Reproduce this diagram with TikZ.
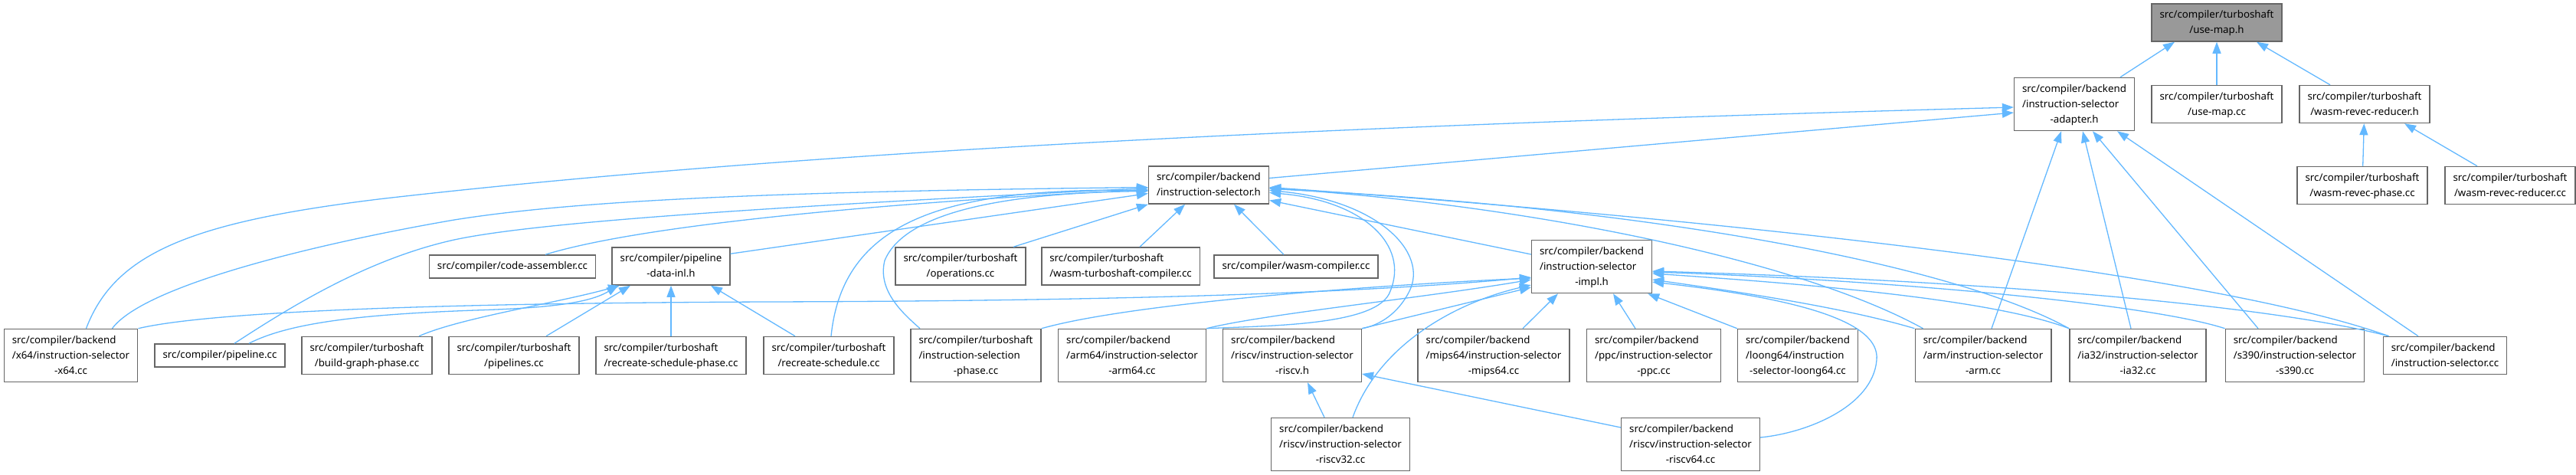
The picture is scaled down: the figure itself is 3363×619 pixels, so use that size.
\documentclass[tikz,border=0pt]{standalone}
\usepackage{fontspec}
\setmainfont{Noto Sans}
\usepackage{tikz}
\usetikzlibrary{arrows.meta}
\definecolor{edgeblue}{HTML}{63B8FF}
\definecolor{boxgray}{HTML}{666666}
\definecolor{maingray}{HTML}{999999}
%% file label: left-aligned lines, last line centred
\newcommand{\fpath}[2]{\begin{tabular}{@{}l@{}}#1\\\multicolumn{1}{@{}c@{}}{#2}\end{tabular}}
\tikzset{
  dep/.style  = {{Triangle[length=15pt, width=11pt]}-, draw=edgeblue, line width=1.3pt},
  %% Box presets
  wbox/.style = {draw=boxgray, fill=white, line width=1.5pt, inner xsep=10.5pt, inner ysep=4.5pt,
                 minimum height=30pt, font=\fontsize{13.3}{20}\selectfont},
  gbox/.style = {wbox, fill=maingray},
}

\begin{document}
\begin{tikzpicture}[x=1pt, y=-1pt]
\useasboundingbox (0,0) rectangle (3363,619);

%% ---- (1) use-map.h and its direct users ----
\node[gbox] (usemaph)    at (2894, 29.5) {\fpath{src/compiler/turboshaft}{/use-map.h}};
\node[wbox] (adapter)    at (2708, 136)  {\fpath{src/compiler/backend\\/instruction-selector}{-adapter.h}};
\node[wbox] (usemapcc)   at (2894, 136)  {\fpath{src/compiler/turboshaft}{/use-map.cc}};
\node[wbox] (revech)     at (3087, 136)  {\fpath{src/compiler/turboshaft}{/wasm-revec-reducer.h}};
\node[wbox] (revecphase) at (3084, 242)  {\fpath{src/compiler/turboshaft}{/wasm-revec-phase.cc}};
\node[wbox] (reveccc)    at (3277, 242)  {\fpath{src/compiler/turboshaft}{/wasm-revec-reducer.cc}};

%% ---- (2) instruction-selector.h ----
\node[wbox] (ish) at (1578, 241.5) {\fpath{src/compiler/backend}{/instruction-selector.h}};

%% ---- (3) middle row ----
\node[wbox] (codeasm)    at (669, 348)    {src/compiler/code-assembler.cc};
\node[wbox] (pdatainl)   at (876, 347.5)  {\fpath{src/compiler/pipeline}{-data-inl.h}};
\node[wbox] (operations) at (1254, 347.5) {\fpath{src/compiler/turboshaft}{/operations.cc}};
\node[wbox] (wasmts)     at (1463, 347.5) {\fpath{src/compiler/turboshaft}{/wasm-turboshaft-compiler.cc}};
\node[wbox] (wasmcomp)   at (1692, 348)   {src/compiler/wasm-compiler.cc};
\node[wbox] (impl)       at (2078, 348)   {\fpath{src/compiler/backend\\/instruction-selector}{-impl.h}};

%% ---- (4) lower row ----
\node[wbox] (x64)           at (92.5, 464) {\fpath{src/compiler/backend\\/x64/instruction-selector}{-x64.cc}};
\node[wbox] (pipelinecc)    at (287, 464)  {src/compiler/pipeline.cc};
\node[wbox] (buildgraph)    at (479, 464)  {\fpath{src/compiler/turboshaft}{/build-graph-phase.cc}};
\node[wbox] (pipelines)     at (671, 464)  {\fpath{src/compiler/turboshaft}{/pipelines.cc}};
\node[wbox] (recschedphase) at (876, 464)  {\fpath{src/compiler/turboshaft}{/recreate-schedule-phase.cc}};
\node[wbox] (recsched)      at (1082, 464) {\fpath{src/compiler/turboshaft}{/recreate-schedule.cc}};
\node[wbox] (isphase)       at (1274, 464) {\fpath{src/compiler/turboshaft\\/instruction-selection}{-phase.cc}};
\node[wbox] (arm64)         at (1478, 464) {\fpath{src/compiler/backend\\/arm64/instruction-selector}{-arm64.cc}};
\node[wbox] (riscvh)        at (1687, 464) {\fpath{src/compiler/backend\\/riscv/instruction-selector}{-riscv.h}};
\node[wbox] (mips64)        at (1950, 464) {\fpath{src/compiler/backend\\/mips64/instruction-selector}{-mips64.cc}};
\node[wbox] (ppc)           at (2159, 464) {\fpath{src/compiler/backend\\/ppc/instruction-selector}{-ppc.cc}};
\node[wbox] (loong64)       at (2347, 464) {\fpath{src/compiler/backend\\/loong64/instruction}{-selector-loong64.cc}};
\node[wbox] (arm)           at (2589, 464) {\fpath{src/compiler/backend\\/arm/instruction-selector}{-arm.cc}};
\node[wbox] (ia32)          at (2791, 464) {\fpath{src/compiler/backend\\/ia32/instruction-selector}{-ia32.cc}};
\node[wbox] (s390)          at (2996, 464) {\fpath{src/compiler/backend\\/s390/instruction-selector}{-s390.cc}};
\node[wbox] (iscc)          at (3192, 464) {\fpath{src/compiler/backend}{/instruction-selector.cc}};

%% ---- (5) riscv sources ----
\node[wbox] (riscv32) at (1750, 580) {\fpath{src/compiler/backend\\/riscv/instruction-selector}{-riscv32.cc}};
\node[wbox] (riscv64) at (2207, 580) {\fpath{src/compiler/backend\\/riscv/instruction-selector}{-riscv64.cc}};

%% ---- edges into use-map.h / wasm-revec-reducer.h ----
\draw[dep] ([xshift=-55pt]usemaph.south) -- ([xshift=60pt]adapter.north);
\draw[dep] (usemaph) -- (usemapcc);
\draw[dep] ([xshift=52pt]usemaph.south) -- ([xshift=-45pt]revech.north);
\draw[dep] (revech) -- (revecphase);
\draw[dep] ([xshift=52pt]revech.south) -- ([xshift=-43pt]reveccc.north);

%% ---- edges into instruction-selector-adapter.h ----
\draw[dep] ([yshift=-11pt]adapter.west) -- ([yshift=9pt]ish.east);
\draw[dep] ([yshift=-4pt]adapter.west) .. controls (1900,160) and (1100,190) .. (494,260)
                                         .. controls (250,290) and (150,330) .. ([xshift=20pt]x64.north);
\draw[dep] ([xshift=-17pt]adapter.south) -- ([xshift=11pt]arm.north);
\draw[dep] ([xshift=11pt]adapter.south)  -- ([xshift=-9pt]ia32.north);
\draw[dep] ([xshift=24pt]adapter.south)  -- ([xshift=-48pt]s390.north);
\draw[dep] ([xshift=56pt]adapter.south)  -- ([xshift=-35pt]iscc.north);

%% ---- edges into instruction-selector.h ----
\draw[dep] ([yshift=-3pt]ish.west) .. controls (1000,250) and (750,262) .. (593,287)
                                     .. controls (430,315) and (190,370) .. ([xshift=54pt]x64.north);
\draw[dep] ([yshift=-4pt]ish.west) .. controls (1000,270) and (700,290) .. (593,313)
                                     .. controls (480,338) and (380,400) .. ([xshift=19pt]pipelinecc.north);
\draw[dep] ([yshift=-6pt]ish.west) .. controls (1200,262) and (850,290) .. ([xshift=43pt]codeasm.north);
\draw[dep] ([yshift=-11pt]ish.west) -- ([yshift=-9pt]pdatainl.north east);
\draw[dep] ([yshift=-7pt]ish.west) .. controls (1230,245) and (1100,290) .. ([xshift=3pt]recsched.north);
\draw[dep] ([yshift=-8pt]ish.west) .. controls (1300,252) and (1180,280) .. (1155,340)
                                     .. controls (1145,380) and (1180,410) .. ([xshift=-73pt]isphase.north);
\draw[dep] (ish.south west) -- ([xshift=69pt]operations.north);
\draw[dep] ([xshift=-31pt]ish.south) -- ([xshift=25pt]wasmts.north);
\draw[dep] ([xshift=33pt]ish.south) -- ([xshift=-16pt]wasmcomp.north);
\draw[dep] ([yshift=-20pt]ish.east) -- ([yshift=16pt]impl.west);
\draw[dep] ([yshift=-10pt]ish.east) .. controls (1780,262) and (1840,320) .. (1815,380)
                                      .. controls (1800,425) and (1660,425) .. (arm64.north east);
\draw[dep] ([yshift=-7pt]ish.east) .. controls (1800,262) and (1865,330) .. (1840,380)
                                     .. controls (1825,410) and (1800,425) .. (riscvh.north east);
\draw[dep] ([yshift=-4pt]ish.east) .. controls (2000,268) and (2350,340) .. ([xshift=11pt]arm.north west);
\draw[dep] ([yshift=-5pt]ish.east) .. controls (2150,270) and (2550,345) .. (ia32.north west);
\draw[dep] ([yshift=-3pt]ish.east) .. controls (2300,290) and (2900,360) .. ([xshift=8pt]iscc.north west);

%% ---- edges into instruction-selector-impl.h ----
\draw[dep] ([yshift=-14pt]impl.west) .. controls (1750,385) and (1400,393) .. (1000,394)
                                       .. controls (500,396) and (260,410) .. (x64.north east);
\draw[dep] ([yshift=-15pt]impl.west) .. controls (1800,372) and (1480,395) .. (isphase.north east);
\draw[dep] ([yshift=-17pt]impl.west) .. controls (1850,390) and (1650,410) .. (arm64.north east);
\draw[dep] ([yshift=-27pt]impl.west) -- (riscvh.north east);
\draw[dep] ([yshift=-24pt]impl.west) .. controls (1900,395) and (1800,450) .. ([xshift=16pt]riscv32.north);
\draw[dep] ([xshift=-44pt]impl.south) -- ([xshift=38pt]mips64.north);
\draw[dep] ([xshift=28pt]impl.south)  -- ([xshift=-24pt]ppc.north);
\draw[dep] ([xshift=-6pt]impl.south east) -- (loong64.north west);
\draw[dep] ([yshift=-17pt]impl.east) .. controls (2300,385) and (2420,405) .. (arm.north west);
\draw[dep] ([yshift=-9pt]impl.east)  .. controls (2350,370) and (2600,390) .. (ia32.north west);
\draw[dep] ([yshift=-7pt]impl.east)  .. controls (2450,365) and (2800,395) .. (s390.north west);
\draw[dep] ([yshift=-6pt]impl.east)  .. controls (2550,365) and (2950,395) .. ([xshift=8pt]iscc.north west);
\draw[dep] ([yshift=-20pt]impl.east) .. controls (2350,390) and (2455,420) .. (2450,470)
                                       .. controls (2445,530) and (2360,565) .. ([yshift=9pt]riscv64.east);

%% ---- edges into instruction-selector-riscv.h ----
\draw[dep] ([xshift=20pt]riscvh.south) -- ([xshift=-21pt]riscv32.north);
\draw[dep] ([yshift=-24pt]riscvh.east) -- ([yshift=22pt]riscv64.west);

%% ---- edges into pipeline-data-inl.h ----
\draw[dep] ([xshift=-69pt]pdatainl.south) .. controls (770,395) and (720,402) .. (620,405)
                                            .. controls (480,410) and (380,420) .. ([xshift=38pt]pipelinecc.north);
\draw[dep] ([xshift=-67pt]pdatainl.south) .. controls (730,395) and (600,415) .. ([xshift=68pt]buildgraph.north);
\draw[dep] ([xshift=-53pt]pdatainl.south) -- ([xshift=42pt]pipelines.north);
\draw[dep] (pdatainl) -- (recschedphase);
\draw[dep] ([xshift=52pt]pdatainl.south) -- ([xshift=-44pt]recsched.north);

\end{tikzpicture}
\end{document}
